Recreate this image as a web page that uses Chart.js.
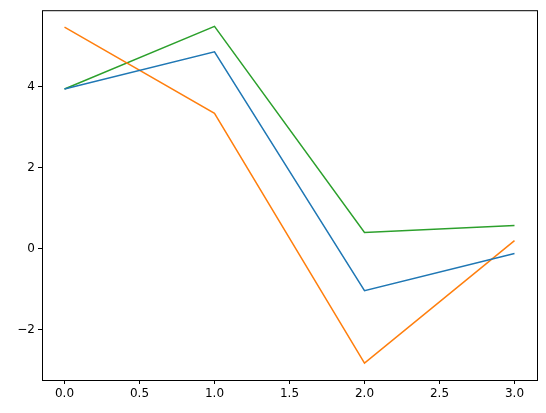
<!DOCTYPE html>
<html>
<head>
<script src="https://cdn.jsdelivr.net/npm/chart.js@4.4.0/dist/chart.umd.min.js"></script>
<style>
  html, body { margin: 0; padding: 0; background: #fff; }
  #wrap { width: 546px; height: 413px; }
</style>
</head>
<body>
<div id="wrap"><canvas id="c" width="546" height="413"></canvas></div>
<script>
const xValues = [0, 1, 2, 3];
const blueValues = [3.95, 4.87, -1.04, -0.12];
const orangeValues = [5.48, 3.35, -2.83, 0.2];
const greenValues = [3.95, 5.5, 0.4, 0.57];
const xTicks = [0, 0.5, 1, 1.5, 2, 2.5, 3];
const yTicks = [-2, 0, 2, 4];

const pts = vals => xValues.map((x, i) => ({ x, y: vals[i] }));
const minus = s => String(s).replace('-', '\u2212');

// matplotlib-style box around the plot area
const frame = {
  id: 'frame',
  afterDraw(chart) {
    const { ctx, chartArea: a } = chart;
    ctx.save();
    ctx.strokeStyle = '#000';
    ctx.lineWidth = 1;
    ctx.strokeRect(a.left + 0.5, a.top + 0.5, a.right - a.left, a.bottom - a.top);
    ctx.restore();
  }
};

const line = (vals, color) => ({
  data: pts(vals), borderColor: color, borderWidth: 1.5,
  pointRadius: 0, tension: 0, fill: false
});

new Chart(document.getElementById('c'), {
  type: 'line',
  data: {
    datasets: [
      line(blueValues, '#1f77b4'),
      line(orangeValues, '#ff7f0e'),
      line(greenValues, '#2ca02c')
    ]
  },
  options: {
    responsive: false,
    animation: false,
    layout: { padding: { top: 10, right: 9, left: 0, bottom: 0 } },
    plugins: { legend: { display: false }, tooltip: { enabled: false } },
    scales: {
      x: {
        type: 'linear', min: -0.15, max: 3.15,
        afterBuildTicks: s => { s.ticks = xTicks.map(v => ({ value: v })); },
        afterFit: s => { s.height = 33; },
        grid: { drawOnChartArea: false, tickLength: 4, tickColor: '#000' },
        border: { display: false },
        ticks: { color: '#000', font: { family: 'DejaVu Sans', size: 12 }, padding: 3,
                 maxRotation: 0, callback: v => minus(v.toFixed(1)) }
      },
      y: {
        type: 'linear', min: -3.25, max: 5.9,
        afterBuildTicks: s => { s.ticks = yTicks.map(v => ({ value: v })); },
        afterFit: s => { s.width = 42; },
        grid: { drawOnChartArea: false, tickLength: 4, tickColor: '#000' },
        border: { display: false },
        ticks: { color: '#000', font: { family: 'DejaVu Sans', size: 12 }, padding: 3,
                 callback: v => minus(v) }
      }
    }
  },
  plugins: [frame]
});
</script>
</body>
</html>
